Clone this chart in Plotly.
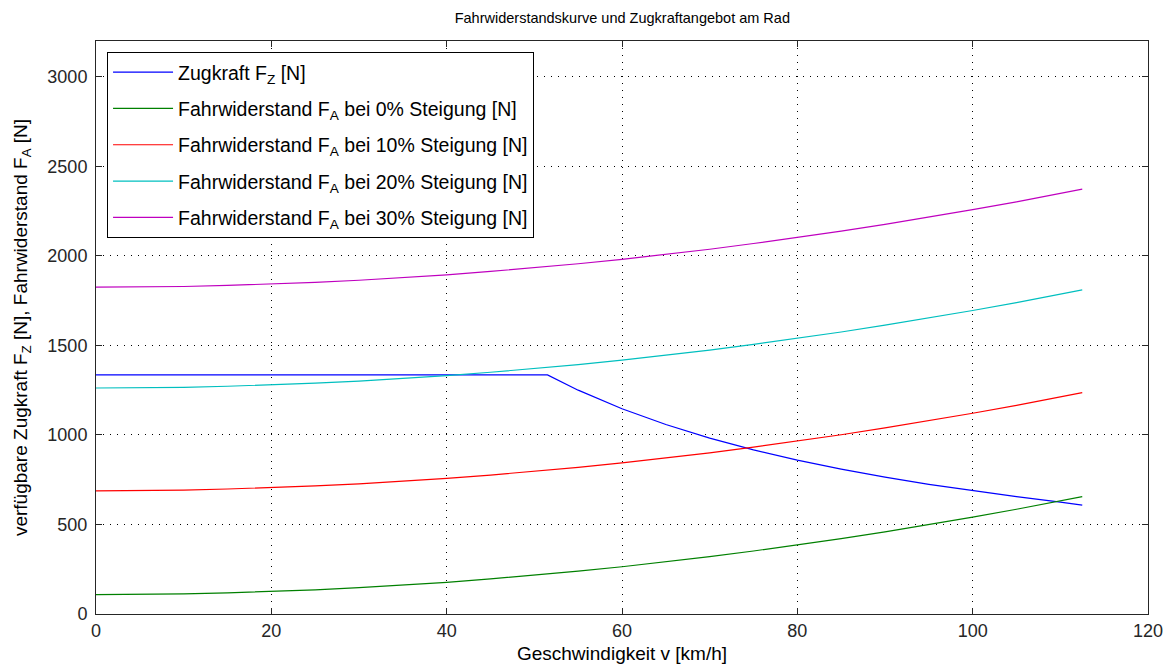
import plotly.graph_objects as go

v = [0, 5, 10, 15, 20, 25, 30, 35, 40, 45, 50, 55, 60, 65, 70, 75, 80, 85, 90, 95, 100, 105, 110, 112.5]
fa_0 = [108, 109, 112, 118, 125, 135, 147, 161, 177, 196, 216, 239, 264, 291, 320, 352, 385, 421, 459, 499, 541, 585, 632, 656]
fa_10 = [688, 689, 692, 698, 705, 715, 727, 741, 757, 776, 796, 819, 844, 871, 900, 932, 965, 1001, 1039, 1079, 1121, 1165, 1212, 1236]
fa_20 = [1262, 1263, 1266, 1272, 1279, 1289, 1301, 1315, 1331, 1350, 1370, 1393, 1418, 1445, 1474, 1506, 1539, 1575, 1613, 1653, 1695, 1739, 1786, 1810]
fa_30 = [1825, 1826, 1829, 1835, 1842, 1852, 1864, 1878, 1894, 1913, 1933, 1956, 1981, 2008, 2037, 2069, 2102, 2138, 2176, 2216, 2258, 2302, 2349, 2373]

v_z = [0, 10, 20, 30, 40, 51.5, 55, 60, 65, 70, 75, 80, 85, 90, 95, 100, 105, 110, 112.5]
f_z = [1335, 1335, 1335, 1335, 1335, 1335, 1250, 1146, 1058, 982, 917, 859, 809, 764, 724, 688, 655, 625, 608]

x_ticks = [0, 20, 40, 60, 80, 100, 120]
y_ticks = [0, 500, 1000, 1500, 2000, 2500, 3000]

FONT = "Liberation Sans, Arial, sans-serif"

fig = go.Figure()
series = [
    (v_z, f_z, "Zugkraft F<sub>Z</sub> [N]", "#0000ff"),
    (v, fa_0, "Fahrwiderstand F<sub>A</sub> bei 0% Steigung [N]", "#008000"),
    (v, fa_10, "Fahrwiderstand F<sub>A</sub> bei 10% Steigung [N]", "#ff0000"),
    (v, fa_20, "Fahrwiderstand F<sub>A</sub> bei 20% Steigung [N]", "#00bfbf"),
    (v, fa_30, "Fahrwiderstand F<sub>A</sub> bei 30% Steigung [N]", "#bf00bf"),
]
for i, (xs, ys, name, col) in enumerate(series):
    fig.add_trace(go.Scatter(x=xs, y=ys, mode="lines", name=name,
                             legendgroup="g%d" % i,
                             line=dict(color=col, width=1.2)))

axis_common = dict(
    showline=True, linecolor="#262626", linewidth=1, mirror="allticks",
    ticks="inside", ticklen=6, tickcolor="#262626", automargin=False,
    showgrid=True, gridcolor="#000000", gridwidth=1, griddash="1px,6px",
    zeroline=False, tickfont=dict(family=FONT, size=18, color="#262626"),
)

fig.update_layout(
    width=1170, height=667,
    margin=dict(l=96, r=22, t=41, b=53),
    paper_bgcolor="white", plot_bgcolor="white",
    font=dict(family=FONT, size=14, color="#000000"),
    title=dict(text="Fahrwiderstandskurve und Zugkraftangebot am Rad",
               x=0.5319, xanchor="center", y=0.973, yanchor="middle",
               font=dict(family=FONT, size=14.5, color="#000000")),
    xaxis=dict(range=[0, 120], tickvals=x_ticks,
               title=dict(text="Geschwindigkeit v [km/h]", standoff=7,
                          font=dict(family=FONT, size=19, color="#000000")),
               **axis_common),
    yaxis=dict(range=[0, 3200], tickvals=y_ticks, ticklabelstandoff=4,
               title=dict(text="verfügbare Zugkraft F<sub>Z</sub> [N], Fahrwiderstand F<sub>A</sub> [N]",
                          standoff=14,
                          font=dict(family=FONT, size=19, color="#000000")),
               **axis_common),
    legend=dict(x=0.0105, y=0.981, xanchor="left", yanchor="top",
                bgcolor="white", bordercolor="#000000", borderwidth=1,
                font=dict(family=FONT, size=19.5, color="#000000"),
                itemwidth=60, tracegroupgap=8),
    showlegend=True,
)

fig.write_html("out.html")
